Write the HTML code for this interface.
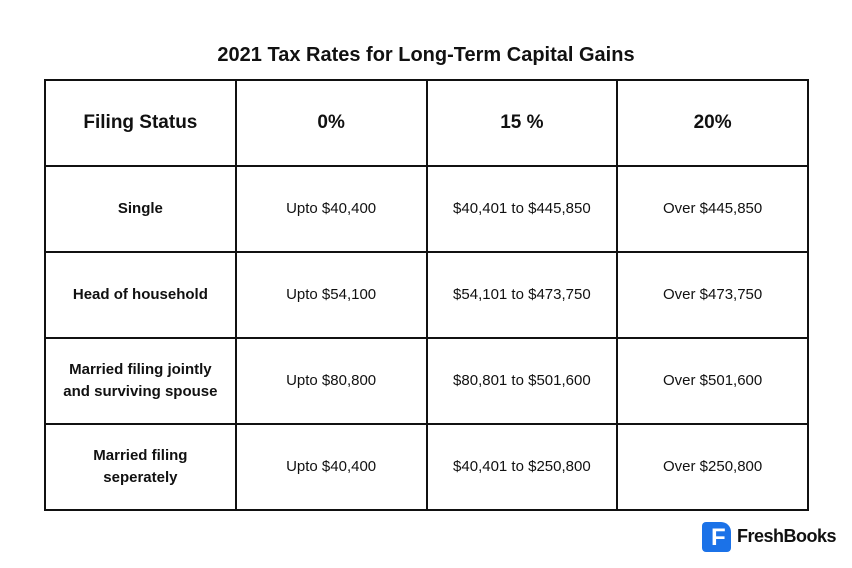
<!DOCTYPE html>
<html><head><meta charset="utf-8"><style>
body{margin:0;width:852px;height:568px;background:#fff;font-family:"Liberation Sans",sans-serif;position:relative;overflow:hidden;color:#111}
.t{position:absolute;left:0;width:852px;top:44px;text-align:center;font-weight:bold;font-size:20px}
table{position:absolute;left:44px;top:79px;border-collapse:collapse;width:765px;table-layout:fixed}
td{border:2px solid #111;text-align:center;vertical-align:middle;font-size:15px;width:25%;line-height:22px;height:84px;padding:0}
tr.h td{font-size:19px;font-weight:bold}
td.b{font-weight:bold;font-size:15px}
.logo{position:absolute;left:702px;top:522px;width:29px;height:30px;background:#1b72e8;border-radius:4px 10px 4px 4px}
.logo span{position:absolute;left:9px;top:2px;color:#fff;font-weight:bold;font-size:24px}
.lt{position:absolute;left:737px;top:526px;font-weight:bold;font-size:18px;letter-spacing:-0.5px}
</style></head><body>
<div class="t">2021 Tax Rates for Long-Term Capital Gains</div>
<table>
<tr class="h"><td>Filing Status</td><td>0%</td><td>15 %</td><td>20%</td></tr>
<tr><td class="b">Single</td><td>Upto $40,400</td><td>$40,401 to $445,850</td><td>Over $445,850</td></tr>
<tr><td class="b">Head of household</td><td>Upto $54,100</td><td>$54,101 to $473,750</td><td>Over $473,750</td></tr>
<tr><td class="b">Married filing jointly<br>and surviving spouse</td><td>Upto $80,800</td><td>$80,801 to $501,600</td><td>Over $501,600</td></tr>
<tr><td class="b">Married filing<br>seperately</td><td>Upto $40,400</td><td>$40,401 to $250,800</td><td>Over $250,800</td></tr>
</table>
<div class="logo"><span>F</span></div>
<div class="lt">FreshBooks</div>
</body></html>
